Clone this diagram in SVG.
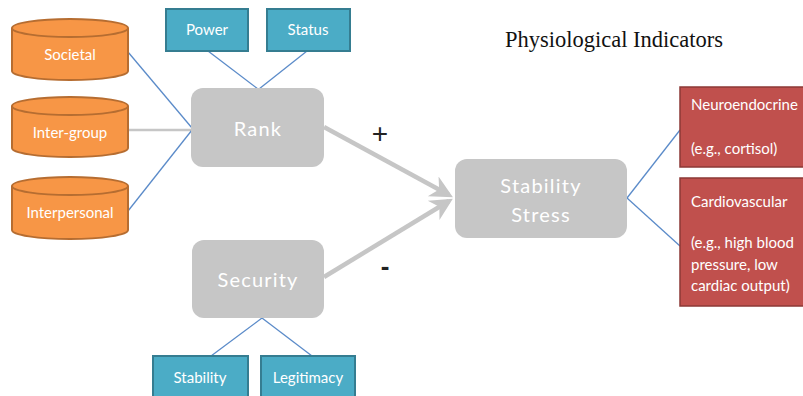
<svg xmlns="http://www.w3.org/2000/svg" width="803" height="396" viewBox="0 0 803 396">
<style>
.cyl{fill:#F79646;stroke:#B66D31;stroke-width:2}
.teal{fill:#4BACC6;stroke:#357D91;stroke-width:2}
.red{fill:#C0504D;stroke:#8C3836;stroke-width:1.5}
.gray{fill:#C6C6C6}
.t{font-family:Lato,"Open Sans","Liberation Sans",sans-serif;fill:#fff}
.s{font-size:15px;text-anchor:middle}
.b{font-size:20px;text-anchor:middle;letter-spacing:1.2px}
.r{font-size:15px}
.ln{stroke:#5B8BC9;stroke-width:1.3;fill:none}
.gl{stroke:#C6C6C6;stroke-width:2.5;fill:none}
.ar{stroke:#C6C6C6;stroke-width:4.5;fill:none}
</style>
<defs>
<marker id="ah" markerWidth="6" markerHeight="6" refX="4" refY="3" orient="auto" markerUnits="strokeWidth">
<path d="M0,0.5 L5,3 L0,5.5 L1.5,3 Z" fill="#C6C6C6"/>
</marker>
</defs>
<rect width="803" height="396" fill="#fff"/>
<g id="connectors">
<line class="ln" x1="128" y1="52" x2="192" y2="128"/>
<line class="gl" x1="128" y1="130" x2="192" y2="130"/>
<line class="ln" x1="128" y1="211" x2="192" y2="130"/>
<line class="ln" x1="208" y1="51" x2="258" y2="89"/>
<line class="ln" x1="307" y1="51" x2="259" y2="89"/>
<line class="ln" x1="262" y1="318" x2="211" y2="356"/>
<line class="ln" x1="262" y1="318" x2="312" y2="356"/>
<line class="ar" x1="324" y1="127" x2="449" y2="195" marker-end="url(#ah)"/>
<line class="ar" x1="324" y1="277" x2="449" y2="201" marker-end="url(#ah)"/>
<line class="ln" x1="627" y1="198" x2="680" y2="130"/>
<line class="ln" x1="627" y1="198" x2="680" y2="246"/>
</g>
<g id="societal">
<path class="cyl" d="M12,28 A58,9 0 0 1 128,28 L128,71 A58,9 0 0 1 12,71 Z"/>
<path class="cyl" d="M12,28 A58,9 0 0 0 128,28" fill="none"/>
<text class="t s" x="70" y="60">Societal</text>
</g>
<g id="intergroup">
<path class="cyl" d="M12,106 A58,9 0 0 1 128,106 L128,148 A58,9 0 0 1 12,148 Z"/>
<path class="cyl" d="M12,106 A58,9 0 0 0 128,106" fill="none"/>
<text class="t s" x="70" y="138">Inter-group</text>
</g>
<g id="interpersonal">
<path class="cyl" d="M12,186 A58,9 0 0 1 128,186 L128,230 A58,9 0 0 1 12,230 Z"/>
<path class="cyl" d="M12,186 A58,9 0 0 0 128,186" fill="none"/>
<text class="t s" x="70" y="218">Interpersonal</text>
</g>
<g id="power">
<rect class="teal" x="166" y="9" width="82" height="42"/>
<text class="t s" x="207" y="35">Power</text>
</g>
<g id="status">
<rect class="teal" x="267" y="9" width="83" height="42"/>
<text class="t s" x="308" y="35">Status</text>
</g>
<g id="rank">
<rect class="gray" x="191" y="88" width="133" height="79" rx="12"/>
<text class="t b" x="258" y="136">Rank</text>
</g>
<g id="security">
<rect class="gray" x="192" y="240" width="132" height="78" rx="12"/>
<text class="t b" x="258" y="287">Security</text>
</g>
<g id="stability">
<rect class="teal" x="153" y="356" width="95" height="44"/>
<text class="t s" x="200" y="383">Stability</text>
</g>
<g id="legitimacy">
<rect class="teal" x="261" y="356" width="94" height="44"/>
<text class="t s" x="308" y="383">Legitimacy</text>
</g>
<g id="stress">
<rect class="gray" x="455" y="159" width="172" height="79" rx="12"/>
<text class="t b" x="541" y="193">Stability</text>
<text class="t b" x="541" y="222">Stress</text>
</g>
<g id="neuro">
<rect class="red" x="680" y="87" width="126" height="80"/>
<text class="t r" x="691" y="110">Neuroendocrine</text>
<text class="t r" x="691" y="154">(e.g., cortisol)</text>
</g>
<g id="cardio">
<rect class="red" x="680" y="178" width="126" height="128"/>
<text class="t r" x="691" y="207">Cardiovascular</text>
<text class="t r" x="691" y="248">(e.g., high blood</text>
<text class="t r" x="691" y="270">pressure, low</text>
<text class="t r" x="691" y="291">cardiac output)</text>
</g>
<text x="380" y="143" font-family="'Liberation Sans',sans-serif" font-size="28" text-anchor="middle" fill="#222">+</text>
<text x="385" y="275" font-family="'Liberation Sans',sans-serif" font-weight="bold" font-size="26" text-anchor="middle" fill="#222">-</text>
<text x="505" y="47" font-family="'Liberation Serif',serif" font-size="22.5" fill="#111">Physiological Indicators</text>
</svg>
